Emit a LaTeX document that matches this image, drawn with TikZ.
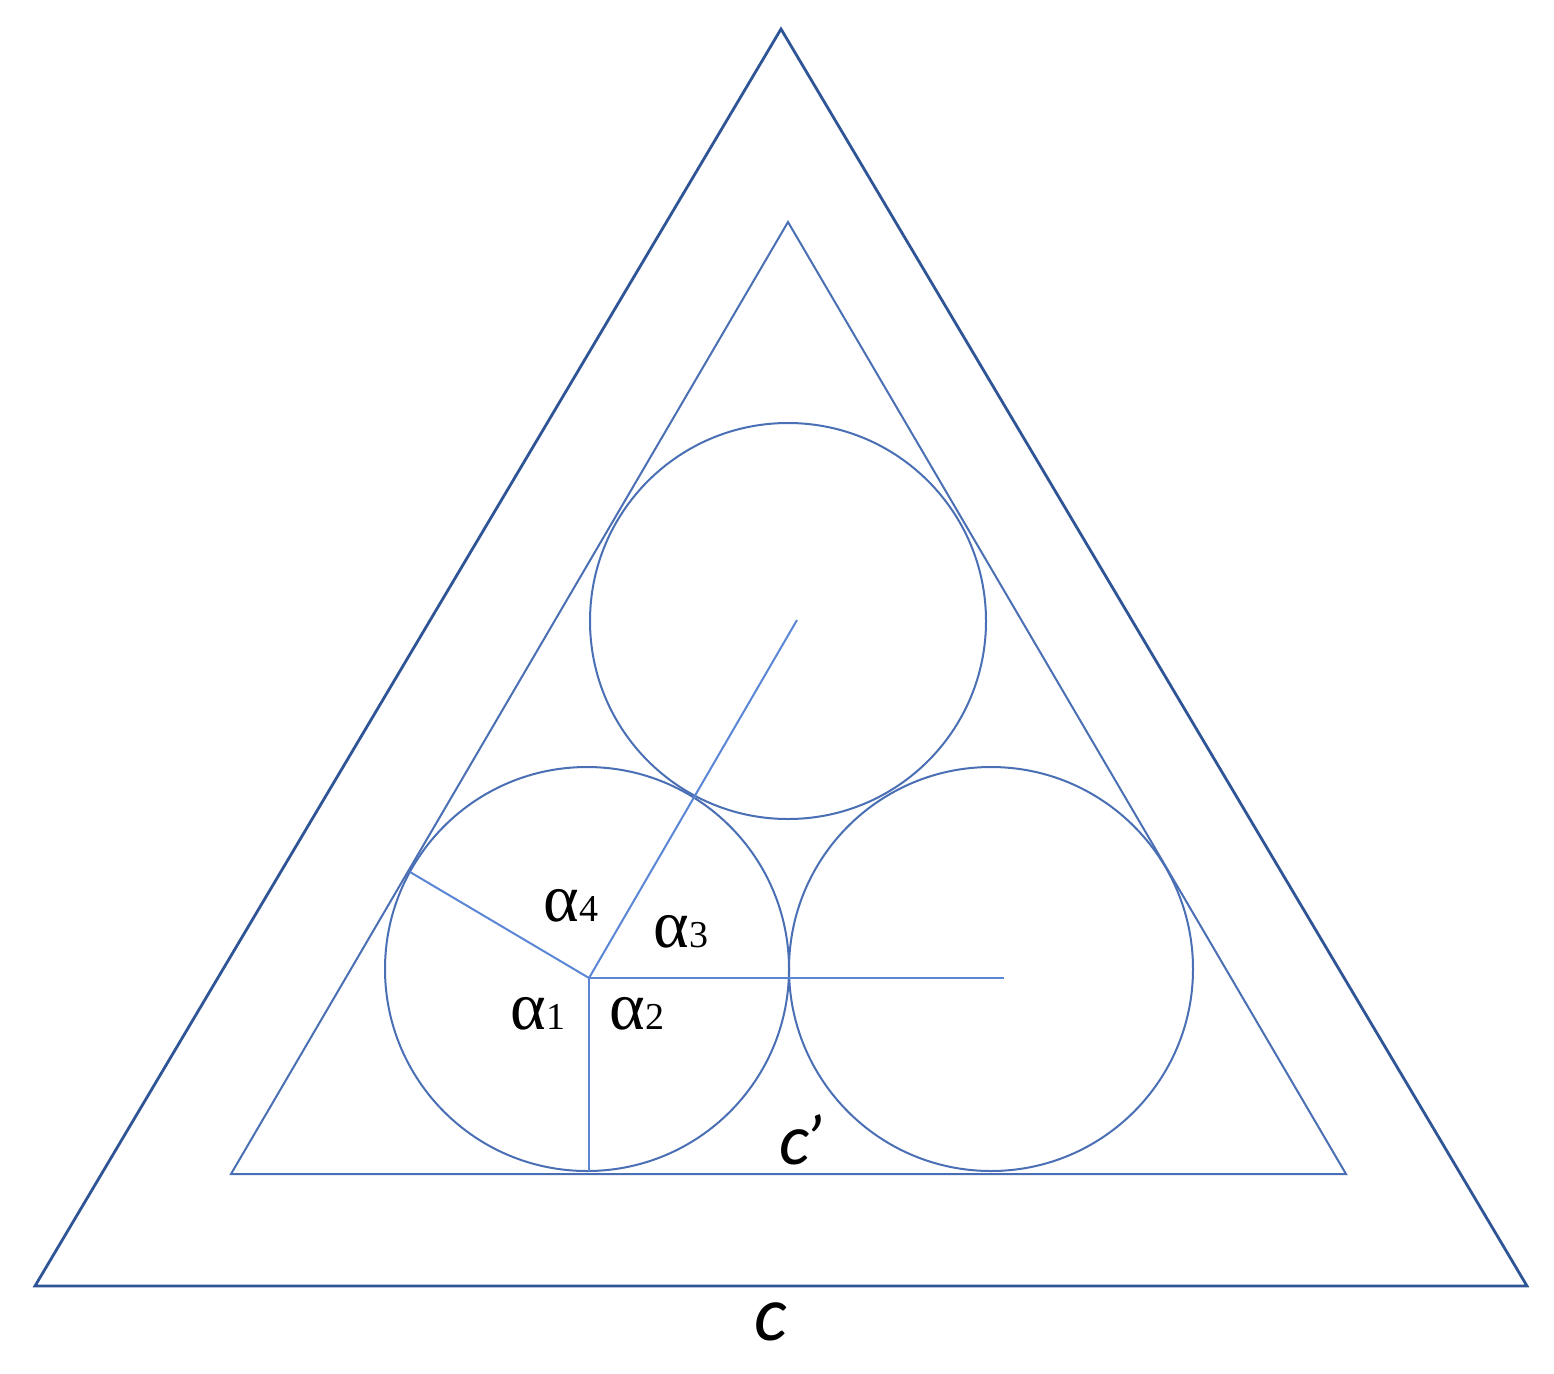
\documentclass[tikz,border=0pt]{standalone}
\usepackage{fontspec}
\setmainfont{Carlito}
\newfontfamily\greekf{Liberation Serif}
\definecolor{outerblue}{HTML}{2F5597}
\definecolor{innerblue}{HTML}{4A6FB5}
\definecolor{rayblue}{HTML}{5B86D6}
\newcommand{\alab}[1]{{\greekf\fontsize{68}{68}\selectfont α\kern1pt\fontsize{38}{38}\selectfont #1}}
\begin{document}
\begin{tikzpicture}[x=1pt,y=-1pt,
  outertri/.style={draw=outerblue,line width=2.8pt,line join=miter},
  innertri/.style={draw=innerblue,line width=2pt,line join=miter},
  ring/.style={draw=innerblue,line width=2pt},
  ray/.style={draw=rayblue,line width=2pt},
  anglelbl/.style={inner sep=0pt},
  sidelbl/.style={inner sep=0pt,font=\fontsize{78}{78}\selectfont\itshape}]
\useasboundingbox (0,0) rectangle (1554,1373);
\fill[white] (0,0) rectangle (1554,1373);
% outer triangle
\coordinate (OA) at (781,29);
\coordinate (OL) at (35,1286);
\coordinate (OR) at (1527,1286);
\draw[outertri] (OA) -- (OL) -- (OR) -- cycle;
% inner triangle
\coordinate (IA) at (788,222);
\coordinate (IL) at (231,1174);
\coordinate (IR) at (1346,1174);
\draw[innertri] (IA) -- (IL) -- (IR) -- cycle;
% circles
\node[ring,circle,minimum size=404pt,inner sep=0pt] (cl) at (587,969) {};
\node[ring,circle,minimum size=404pt,inner sep=0pt] (cr) at (991,969) {};
\node[ring,circle,minimum size=396pt,inner sep=0pt] (ct) at (788,621) {};
% rays
\coordinate (P) at (589,978);
\coordinate (Ptop) at (797,620);
\coordinate (Pright) at (1004,978);
\coordinate (Pleft) at (410,872);
\coordinate (Pdown) at (589,1171);
\draw[ray] (Pleft) -- (P) -- (Ptop);
\draw[ray] (P) -- (Pright);
\draw[ray] (P) -- (Pdown);
% angle labels
\node[anglelbl] (a4) at (571,906) {\alab{4}};
\node[anglelbl] (a3) at (681,932) {\alab{3}};
\node[anglelbl] (a1) at (538,1014) {\alab{1}};
\node[anglelbl] (a2) at (637,1014) {\alab{2}};
% side labels
\node[sidelbl,font=\fontsize{72}{72}\selectfont\itshape] (cp) at (801,1140) {c\kern-5pt’};
\node[sidelbl] (c) at (771,1322) {c};
\end{tikzpicture}
\end{document}
